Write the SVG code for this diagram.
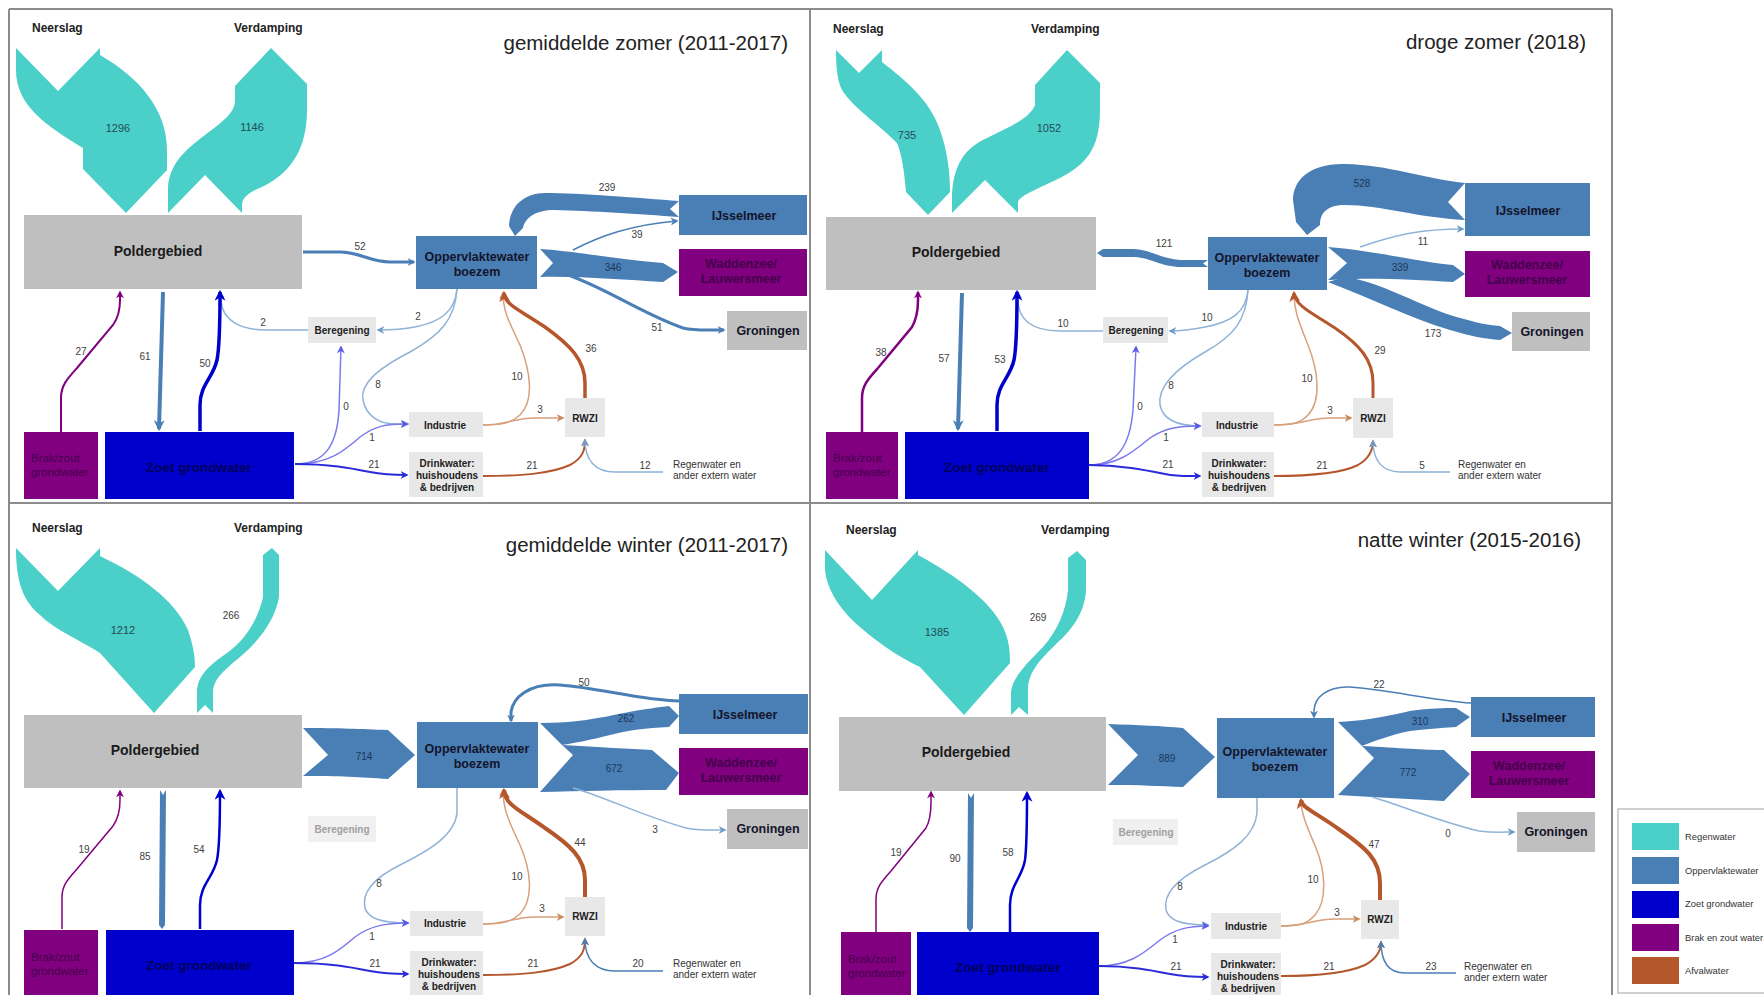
<svg xmlns="http://www.w3.org/2000/svg" width="1764" height="995" viewBox="0 0 1764 995">
<style>
text{font-family:"Liberation Sans",Arial,sans-serif}
.hdr{font-size:12px;font-weight:bold;fill:#222}
.ttl{font-size:20.5px;fill:#222;text-anchor:end}
.pg{font-size:14px;font-weight:bold;fill:#1a1a1a;text-anchor:middle}
.nm{font-size:12.5px;font-weight:bold;fill:#14142a;text-anchor:middle}
.nw{font-size:12.5px;font-weight:bold;fill:#44004a;text-anchor:middle}
.zt{font-size:13.5px;font-weight:bold;fill:#00005a;text-anchor:middle}
.bk{font-size:11.5px;fill:#44004a}
.ns{font-size:10px;font-weight:bold;fill:#222;text-anchor:middle}
.nsg{font-size:10px;font-weight:bold;fill:#a0a0a0;text-anchor:middle}
.fl{font-size:10px;fill:#404040;text-anchor:middle}
.bl{font-size:10px;fill:#1c3658;text-anchor:middle}
.tl{font-size:11px;fill:#244c56;text-anchor:middle}
.rw{font-size:10px;fill:#333}
.lg{font-size:9.4px;fill:#333}
.grey{fill:#bfbfbf}
.lgr{fill:#e8e8e8}
.lgr2{fill:#f0f0f0}
.st{fill:#4a7fb6}
.pu{fill:#800080}
.zo{fill:#0000cd}
.te{fill:#4bcfc9}
.br{fill:#b5572b}
.c{fill:none}
.cst{stroke:#4a7fb6}
.cls{stroke:#8fb3d8}
.czo{stroke:#0000cd}
.cvi{stroke:#7a7aee}
.cbl{stroke:#2a2ad8}
.cpu{stroke:#800080}
.cbr{stroke:#b5572b}
.clb{stroke:#d8a07c}
.frame{stroke:#8c8c8c;stroke-width:2;fill:none}
</style>
<defs>
<marker id="mSt" viewBox="0 0 10 10" refX="8" refY="5" markerWidth="8" markerHeight="8" markerUnits="userSpaceOnUse" orient="auto"><path d="M0,0L10,5L0,10L3,5Z" fill="#4a7fb6"/></marker>
<marker id="mStL" viewBox="0 0 10 10" refX="8" refY="5" markerWidth="11" markerHeight="11" markerUnits="userSpaceOnUse" orient="auto"><path d="M0,0L10,5L0,10L3,5Z" fill="#4a7fb6"/></marker>
<marker id="mLs" viewBox="0 0 10 10" refX="8" refY="5" markerWidth="8" markerHeight="8" markerUnits="userSpaceOnUse" orient="auto"><path d="M0,0L10,5L0,10L3,5Z" fill="#6f9ccc"/></marker>
<marker id="mZo" viewBox="0 0 10 10" refX="8" refY="5" markerWidth="11" markerHeight="11" markerUnits="userSpaceOnUse" orient="auto"><path d="M0,0L10,5L0,10L3,5Z" fill="#0000cd"/></marker>
<marker id="mVi" viewBox="0 0 10 10" refX="8" refY="5" markerWidth="8" markerHeight="8" markerUnits="userSpaceOnUse" orient="auto"><path d="M0,0L10,5L0,10L3,5Z" fill="#5a5aea"/></marker>
<marker id="mBl" viewBox="0 0 10 10" refX="8" refY="5" markerWidth="8" markerHeight="8" markerUnits="userSpaceOnUse" orient="auto"><path d="M0,0L10,5L0,10L3,5Z" fill="#2a2ad8"/></marker>
<marker id="mPu" viewBox="0 0 10 10" refX="8" refY="5" markerWidth="8" markerHeight="8" markerUnits="userSpaceOnUse" orient="auto"><path d="M0,0L10,5L0,10L3,5Z" fill="#800080"/></marker>
<marker id="mBr" viewBox="0 0 10 10" refX="8" refY="5" markerWidth="11" markerHeight="11" markerUnits="userSpaceOnUse" orient="auto"><path d="M0,0L10,5L0,10L3,5Z" fill="#b5572b"/></marker>
<marker id="mBrS" viewBox="0 0 10 10" refX="8" refY="5" markerWidth="8" markerHeight="8" markerUnits="userSpaceOnUse" orient="auto"><path d="M0,0L10,5L0,10L3,5Z" fill="#b5572b"/></marker>
<marker id="mLb" viewBox="0 0 10 10" refX="8" refY="5" markerWidth="8" markerHeight="8" markerUnits="userSpaceOnUse" orient="auto"><path d="M0,0L10,5L0,10L3,5Z" fill="#c98a60"/></marker>
</defs>
<rect x="0" y="0" width="1764" height="995" fill="#ffffff"/>

<g id="frames">
<path class="frame" d="M9,9 L1612,9 M9,9 L9,995 M810,9 L810,995 M1612,9 L1612,995 M9,503 L1612,503"/>
</g>

<!-- ================= PANEL A ================= -->
<g id="panelA">
<text class="ttl" x="788" y="50">gemiddelde zomer (2011-2017)</text>
<g id="a-neerslag"><text class="hdr" x="32" y="32">Neerslag</text></g>
<g id="a-verdamping"><text class="hdr" x="234" y="32">Verdamping</text></g>
<g id="a-polder"><rect class="grey" x="24" y="215" width="278" height="74"/><text class="pg" x="158" y="256">Poldergebied</text></g>
<g id="a-opp"><rect class="st" x="416" y="236" width="121" height="53"/><text class="nm" x="477" y="261">Oppervlaktewater</text><text class="nm" x="477" y="276">boezem</text></g>
<g id="a-ijssel"><rect class="st" x="679" y="195" width="128" height="40"/><text class="nm" x="744" y="220">IJsselmeer</text></g>
<g id="a-wadden"><rect class="pu" x="679" y="249" width="128" height="47"/><text class="nw" x="741" y="268">Waddenzee/</text><text class="nw" x="741" y="283">Lauwersmeer</text></g>
<g id="a-gron"><rect class="grey" x="727" y="311" width="80" height="39"/><text class="nm" x="768" y="335">Groningen</text></g>
<g id="a-bereg"><rect class="lgr" x="308" y="317" width="68" height="26"/><text class="ns" x="342" y="334">Beregening</text></g>
<g id="a-ind"><rect class="lgr" x="409" y="412" width="74" height="25"/><text class="ns" x="445" y="429">Industrie</text></g>
<g id="a-drink"><rect class="lgr" x="409" y="452" width="74" height="45"/><text class="ns" x="447" y="467">Drinkwater:</text><text class="ns" x="447" y="479">huishoudens</text><text class="ns" x="447" y="491">&amp; bedrijven</text></g>
<g id="a-rwzi"><rect class="lgr" x="565" y="398" width="40" height="39"/><text class="ns" x="585" y="422">RWZI</text></g>
<g id="a-brak"><rect class="pu" x="24" y="432" width="74" height="67"/><text class="bk" x="31" y="462">Brak/zout</text><text class="bk" x="31" y="476">grondwater</text></g>
<g id="a-zoet"><rect class="zo" x="105" y="432" width="189" height="67"/><text class="zt" x="199" y="472">Zoet grondwater</text></g>
<g id="a-regen"><text class="rw" x="673" y="468">Regenwater en</text><text class="rw" x="673" y="479">ander extern water</text></g>
</g>
<g id="connectorsA">
<path class="te" d="M16,48 L58,91 L100,48 L100,55 C140,78 167,110 167,150 L167,170 L126,213 L83,169 L83,148 C45,125 16,105 16,70 Z"/>
<path class="te" d="M168,213 L168,190 C168,165 185,150 205,135 C225,120 235,112 235,100 L235,86 L271,48 L307,84 L307,110 C307,160 280,180 255,190 C245,195 242,200 242,205 L242,213 L205,175 Z"/>
<text class="tl" x="118" y="132">1296</text>
<text class="tl" x="252" y="131">1146</text>
<path class="c cst" stroke-width="3" marker-end="url(#mSt)" d="M303,252 L340,252 C360,252 370,262 390,262 L414,262"/>
<text class="fl" x="360" y="250">52</text>
<path class="st" d="M679,201 C640,198 580,193 545,193 C525,193 510,205 509,226 L515,236 L523,228 C525,218 535,210 555,210 C590,211 640,214 679,217 L670,209 Z"/>
<text class="fl" x="607" y="191">239</text>
<path class="c cst" stroke-width="1.5" marker-end="url(#mSt)" d="M573,250 C600,236 630,225 677,221"/>
<text class="fl" x="637" y="238">39</text>
<path class="st" d="M540,249 C575,251 620,260 663,263 L678,272 L663,282 C625,280 580,276 540,277 L553,263 Z"/>
<text class="bl" x="613" y="271">346</text>
<path class="c cst" stroke-width="3" marker-end="url(#mSt)" d="M565,274 C605,287 640,313 683,328 C695,331 705,330 724,330"/>
<text class="fl" x="657" y="331">51</text>
<path class="c cls" stroke-width="1.5" marker-end="url(#mLs)" d="M457,289 C455,312 440,322 415,327 C400,330 390,330 378,330"/>
<text class="fl" x="418" y="320">2</text>
<path class="c cls" stroke-width="1.5" marker-end="url(#mLs)" d="M308,330 L270,330 C240,331 222,320 221,300 L220,292"/>
<text class="fl" x="263" y="326">2</text>
<path class="c cls" stroke-width="1.5" marker-end="url(#mLs)" d="M457,289 C455,320 440,335 410,352 C375,370 360,385 363,400 C366,415 378,424 395,424 L408,424"/>
<text class="fl" x="378" y="388">8</text>
<path class="c clb" stroke-width="1.5" marker-end="url(#mLb)" d="M483,425 C500,425 510,424 520,415 C535,400 530,370 520,345 C508,320 503,310 503,293"/>
<text class="fl" x="517" y="380">10</text>
<path class="c cbr" stroke-width="3.5" marker-end="url(#mBr)" d="M585,398 L585,383 C585,360 570,345 545,327 C520,310 505,305 504,293"/>
<text class="fl" x="591" y="352">36</text>
<path class="c clb" stroke-width="1.5" marker-end="url(#mLb)" d="M483,425 C505,425 515,418 535,418 L563,418"/>
<text class="fl" x="540" y="413">3</text>
<path class="c cbr" stroke-width="2" marker-end="url(#mBrS)" d="M483,476 C520,476 550,474 570,465 C583,458 585,450 585,440"/>
<text class="fl" x="532" y="469">21</text>
<path class="c cls" stroke-width="1.5" marker-end="url(#mLs)" d="M663,472 L615,472 C595,472 585,460 585,440"/>
<text class="fl" x="645" y="469">12</text>
<path class="c cpu" stroke-width="2" marker-end="url(#mPu)" d="M61,432 L61,398 C61,385 68,378 77,368 L113,325 C118,318 120,310 120,300 L120,292"/>
<text class="fl" x="81" y="355">27</text>
<path class="c cst" stroke-width="4" marker-end="url(#mStL)" d="M163,292 L159,429"/>
<text class="fl" x="145" y="360">61</text>
<path class="c czo" stroke-width="3.5" marker-end="url(#mZo)" d="M200,431 L200,405 C200,385 213,378 217,360 C220,345 220,320 220,292"/>
<text class="fl" x="205" y="367">50</text>
<path class="c cvi" stroke-width="1.5" marker-end="url(#mVi)" d="M295,464 C325,464 337,445 339,410 L341,347"/>
<text class="fl" x="346" y="410">0</text>
<path class="c cvi" stroke-width="1.5" marker-end="url(#mVi)" d="M295,464 C330,464 345,450 360,437 C375,426 385,424 407,424"/>
<text class="fl" x="372" y="441">1</text>
<path class="c cbl" stroke-width="2" marker-end="url(#mBl)" d="M295,464 C330,464 350,468 370,472 C385,475 395,475 407,475"/>
<text class="fl" x="374" y="468">21</text>
</g>

<!-- ================= PANEL B ================= -->
<g id="panelB">
<text class="ttl" x="1586" y="49">droge zomer (2018)</text>
<g id="b-neerslag"><text class="hdr" x="833" y="33">Neerslag</text></g>
<g id="b-verdamping"><text class="hdr" x="1031" y="33">Verdamping</text></g>
<g id="b-polder"><rect class="grey" x="826" y="217" width="270" height="73"/><text class="pg" x="956" y="257">Poldergebied</text></g>
<g id="b-opp"><rect class="st" x="1208" y="237" width="119" height="53"/><text class="nm" x="1267" y="262">Oppervlaktewater</text><text class="nm" x="1267" y="277">boezem</text></g>
<g id="b-ijssel"><rect class="st" x="1465" y="183" width="125" height="53"/><text class="nm" x="1528" y="215">IJsselmeer</text></g>
<g id="b-wadden"><rect class="pu" x="1465" y="251" width="125" height="46"/><text class="nw" x="1527" y="269">Waddenzee/</text><text class="nw" x="1527" y="284">Lauwersmeer</text></g>
<g id="b-gron"><rect class="grey" x="1512" y="312" width="78" height="39"/><text class="nm" x="1552" y="336">Groningen</text></g>
<g id="b-bereg"><rect class="lgr" x="1103" y="317" width="65" height="26"/><text class="ns" x="1136" y="334">Beregening</text></g>
<g id="b-ind"><rect class="lgr" x="1202" y="412" width="72" height="25"/><text class="ns" x="1237" y="429">Industrie</text></g>
<g id="b-drink"><rect class="lgr" x="1202" y="452" width="72" height="45"/><text class="ns" x="1239" y="467">Drinkwater:</text><text class="ns" x="1239" y="479">huishoudens</text><text class="ns" x="1239" y="491">&amp; bedrijven</text></g>
<g id="b-rwzi"><rect class="lgr" x="1353" y="398" width="40" height="40"/><text class="ns" x="1373" y="422">RWZI</text></g>
<g id="b-brak"><rect class="pu" x="826" y="432" width="72" height="67"/><text class="bk" x="833" y="462">Brak/zout</text><text class="bk" x="833" y="476">grondwater</text></g>
<g id="b-zoet"><rect class="zo" x="905" y="432" width="184" height="67"/><text class="zt" x="997" y="472">Zoet grondwater</text></g>
<g id="b-regen"><text class="rw" x="1458" y="468">Regenwater en</text><text class="rw" x="1458" y="479">ander extern water</text></g>
</g>
<g id="connectorsB">
<path class="te" d="M836,50 L859,73 L882,50 L882,62 C905,80 930,100 940,130 C947,150 950,170 950,192 L928,215 L906,192 C904,170 902,155 897,143 C880,125 855,110 842,90 C837,80 836,65 836,50 Z"/>
<path class="te" d="M952,213 L952,200 C952,165 965,148 987,138 C1010,127 1030,118 1035,105 L1035,85 L1067,50 L1100,83 L1100,110 C1100,150 1085,165 1060,178 C1040,188 1020,195 1018,202 L1018,213 L985,180 Z"/>
<text class="tl" x="907" y="139">735</text>
<text class="tl" x="1049" y="132">1052</text>
<path class="st" d="M1208,260 L1182,260 C1160,259 1150,249 1133,249 L1103,249 L1097,253 L1103,257 L1133,257 C1150,257 1160,267 1182,267 L1208,267 L1203,263.5 Z"/>
<text class="fl" x="1164" y="247">121</text>
<path class="st" d="M1465,183 C1420,178 1390,165 1345,164 C1310,163 1293,180 1293,200 L1296,222 L1307,235 L1320,225 C1320,212 1328,205 1345,205 C1380,205 1420,218 1465,220 L1448,202 Z"/>
<text class="bl" x="1362" y="187">528</text>
<path class="c cls" stroke-width="1.5" marker-end="url(#mLs)" d="M1360,247 C1395,235 1420,229 1463,229"/>
<text class="fl" x="1423" y="245">11</text>
<path class="st" d="M1345,277 C1380,282 1415,303 1450,315 C1470,321 1485,325 1500,326 L1512,333 L1500,340 C1485,339 1470,336 1450,330 C1410,318 1370,298 1328,282 Z"/>
<path class="st" d="M1328,247 C1370,250 1420,262 1453,265 L1465,274 L1453,282 C1420,280 1380,278 1355,279 L1328,280 L1347,263 Z"/>
<text class="bl" x="1400" y="271">339</text>
<text class="fl" x="1433" y="337">173</text>
<path class="c cls" stroke-width="1.5" marker-end="url(#mLs)" d="M1248,290 C1246,312 1232,322 1205,327 C1190,330 1180,331 1170,331"/>
<text class="fl" x="1207" y="321">10</text>
<path class="c cls" stroke-width="1.5" marker-end="url(#mLs)" d="M1103,331 L1060,331 C1030,331 1018,318 1018,300 L1018,292"/>
<text class="fl" x="1063" y="327">10</text>
<path class="c cls" stroke-width="1.5" marker-end="url(#mLs)" d="M1248,290 C1246,320 1235,335 1205,352 C1170,372 1158,390 1160,405 C1163,420 1178,426 1200,426"/>
<text class="fl" x="1171" y="389">8</text>
<path class="c clb" stroke-width="1.5" marker-end="url(#mLb)" d="M1274,425 C1290,425 1300,424 1308,415 C1322,400 1318,370 1308,345 C1298,320 1294,310 1294,293"/>
<text class="fl" x="1307" y="382">10</text>
<path class="c cbr" stroke-width="3" marker-end="url(#mBr)" d="M1373,398 L1373,383 C1373,360 1360,345 1335,328 C1310,312 1295,305 1294,293"/>
<text class="fl" x="1380" y="354">29</text>
<path class="c clb" stroke-width="1.5" marker-end="url(#mLb)" d="M1274,425 C1300,425 1310,418 1330,418 L1351,418"/>
<text class="fl" x="1330" y="414">3</text>
<path class="c cbr" stroke-width="2" marker-end="url(#mBrS)" d="M1274,476 C1310,476 1340,474 1358,465 C1370,458 1373,450 1373,441"/>
<text class="fl" x="1322" y="469">21</text>
<path class="c cls" stroke-width="1.5" marker-end="url(#mLs)" d="M1450,472 L1400,472 C1382,472 1373,460 1373,441"/>
<text class="fl" x="1422" y="469">5</text>
<path class="c cpu" stroke-width="2.5" marker-end="url(#mPu)" d="M862,432 L862,398 C862,385 869,378 878,368 L912,327 C916,320 918,310 918,300 L918,292"/>
<text class="fl" x="881" y="356">38</text>
<path class="c cst" stroke-width="4" marker-end="url(#mStL)" d="M962,293 L958,429"/>
<text class="fl" x="944" y="362">57</text>
<path class="c czo" stroke-width="3.5" marker-end="url(#mZo)" d="M997,431 L997,405 C997,385 1010,378 1014,360 C1017,345 1017,320 1017,292"/>
<text class="fl" x="1000" y="363">53</text>
<path class="c cvi" stroke-width="1.5" marker-end="url(#mVi)" d="M1089,465 C1118,465 1130,445 1133,410 L1136,347"/>
<text class="fl" x="1140" y="410">0</text>
<path class="c cvi" stroke-width="1.5" marker-end="url(#mVi)" d="M1089,465 C1120,465 1135,450 1150,438 C1165,428 1178,426 1200,426"/>
<text class="fl" x="1166" y="441">1</text>
<path class="c cbl" stroke-width="2" marker-end="url(#mBl)" d="M1089,465 C1120,465 1145,470 1165,474 C1180,477 1190,476 1200,476"/>
<text class="fl" x="1168" y="468">21</text>
</g>

<!-- ================= PANEL C ================= -->
<g id="panelC">
<text class="ttl" x="788" y="552">gemiddelde winter (2011-2017)</text>
<g id="c-neerslag"><text class="hdr" x="32" y="532">Neerslag</text></g>
<g id="c-verdamping"><text class="hdr" x="234" y="532">Verdamping</text></g>
<g id="c-polder"><rect class="grey" x="24" y="715" width="278" height="73"/><text class="pg" x="155" y="755">Poldergebied</text></g>
<g id="c-opp"><rect class="st" x="417" y="722" width="121" height="66"/><text class="nm" x="477" y="753">Oppervlaktewater</text><text class="nm" x="477" y="768">boezem</text></g>
<g id="c-ijssel"><rect class="st" x="679" y="694" width="129" height="40"/><text class="nm" x="745" y="719">IJsselmeer</text></g>
<g id="c-wadden"><rect class="pu" x="679" y="748" width="129" height="47"/><text class="nw" x="741" y="767">Waddenzee/</text><text class="nw" x="741" y="782">Lauwersmeer</text></g>
<g id="c-gron"><rect class="grey" x="727" y="809" width="81" height="40"/><text class="nm" x="768" y="833">Groningen</text></g>
<g id="c-bereg"><rect class="lgr2" x="308" y="816" width="68" height="26"/><text class="nsg" x="342" y="833">Beregening</text></g>
<g id="c-ind"><rect class="lgr" x="410" y="911" width="73" height="25"/><text class="ns" x="445" y="927">Industrie</text></g>
<g id="c-drink"><rect class="lgr" x="410" y="951" width="73" height="50"/><text class="ns" x="449" y="966">Drinkwater:</text><text class="ns" x="449" y="978">huishoudens</text><text class="ns" x="449" y="990">&amp; bedrijven</text></g>
<g id="c-rwzi"><rect class="lgr" x="565" y="897" width="40" height="39"/><text class="ns" x="585" y="920">RWZI</text></g>
<g id="c-brak"><rect class="pu" x="24" y="930" width="74" height="70"/><text class="bk" x="31" y="961">Brak/zout</text><text class="bk" x="31" y="975">grondwater</text></g>
<g id="c-zoet"><rect class="zo" x="106" y="930" width="188" height="70"/><text class="zt" x="199" y="970">Zoet grondwater</text></g>
<g id="c-regen"><text class="rw" x="673" y="967">Regenwater en</text><text class="rw" x="673" y="978">ander extern water</text></g>
</g>
<g id="connectorsC">
<path class="te" d="M16,548 L58,591 L100,548 L100,556 C140,575 175,600 188,630 C193,645 195,655 195,667 L154,713 L100,653 C80,640 55,630 40,615 C22,600 16,580 16,548 Z"/>
<path class="te" d="M197,713 L197,693 C197,675 210,665 227,653 C245,640 258,620 263,597 L263,555 L272,548 L279,555 L279,597 C275,620 260,640 240,657 C222,672 213,680 213,693 L213,713 L205,705 Z"/>
<text class="tl" x="123" y="634">1212</text>
<text class="fl" x="231" y="619">266</text>
<path class="st" d="M303,728 C340,728 360,729 388,730 L415,755 L388,779 C360,777 340,776 303,776 L328,755 Z"/>
<text class="bl" x="364" y="760">714</text>
<path class="c cst" stroke-width="3" marker-end="url(#mSt)" d="M679,701 C640,700 600,688 560,685 C528,683 513,698 511,712 L511,721"/>
<text class="fl" x="584" y="686">50</text>
<path class="st" d="M540,723 C575,723 600,718 624,713 C645,709 660,707 669,706 L679,716 L669,727 C645,728 630,730 610,735 C590,740 575,743 562,745 Z"/>
<text class="bl" x="626" y="722">262</text>
<path class="st" d="M562,745 C600,747 630,749 652,750 L679,773 L666,790 C620,790 580,791 540,792 L573,755 Z"/>
<text class="bl" x="614" y="772">672</text>
<path class="c cls" stroke-width="1.5" marker-end="url(#mLs)" d="M573,788 C600,795 640,815 686,828 C700,831 710,830 725,830"/>
<text class="fl" x="655" y="833">3</text>
<path class="c cls" stroke-width="1.5" marker-end="url(#mLs)" d="M457,788 L457,813 C455,835 430,850 400,865 C370,880 362,895 365,908 C368,918 380,923 408,923"/>
<text class="fl" x="379" y="887">8</text>
<path class="c clb" stroke-width="1.5" marker-end="url(#mLb)" d="M483,924 C500,924 510,923 520,914 C535,898 530,868 520,845 C508,820 503,808 503,790"/>
<text class="fl" x="517" y="880">10</text>
<path class="c cbr" stroke-width="4" marker-end="url(#mBr)" d="M585,897 L585,880 C585,858 570,845 545,828 C520,810 505,805 504,790"/>
<text class="fl" x="580" y="846">44</text>
<path class="c clb" stroke-width="1.5" marker-end="url(#mLb)" d="M483,924 C505,924 515,917 535,917 L563,917"/>
<text class="fl" x="542" y="912">3</text>
<path class="c cbr" stroke-width="2" marker-end="url(#mBrS)" d="M483,975 C520,975 550,973 570,964 C583,957 585,949 585,939"/>
<text class="fl" x="533" y="967">21</text>
<path class="c cst" stroke-width="1.5" marker-end="url(#mSt)" d="M663,971 L615,971 C595,971 585,959 585,939"/>
<text class="fl" x="638" y="967">20</text>
<path class="c cpu" stroke-width="1.5" marker-end="url(#mPu)" d="M62,929 L62,897 C62,885 69,878 77,869 L113,826 C118,819 120,810 120,800 L120,791"/>
<text class="fl" x="84" y="853">19</text>
<path class="st" d="M160,790 L163,795 L166,790 L165,925 L162,929 L159,925 Z"/>
<text class="fl" x="145" y="860">85</text>
<path class="c czo" stroke-width="2.5" marker-end="url(#mZo)" d="M200,929 L200,905 C200,885 213,878 217,860 C220,845 220,820 220,791"/>
<text class="fl" x="199" y="853">54</text>
<path class="c cvi" stroke-width="1.5" marker-end="url(#mVi)" d="M294,963 C325,963 340,950 355,937 C370,926 385,923 408,923"/>
<text class="fl" x="372" y="940">1</text>
<path class="c cbl" stroke-width="2" marker-end="url(#mBl)" d="M294,963 C330,963 350,967 370,971 C385,974 395,974 408,974"/>
<text class="fl" x="375" y="967">21</text>
</g>

<!-- ================= PANEL D ================= -->
<g id="panelD">
<text class="ttl" x="1581" y="547">natte winter (2015-2016)</text>
<g id="d-neerslag"><text class="hdr" x="846" y="534">Neerslag</text></g>
<g id="d-verdamping"><text class="hdr" x="1041" y="534">Verdamping</text></g>
<g id="d-polder"><rect class="grey" x="839" y="717" width="267" height="74"/><text class="pg" x="966" y="757">Poldergebied</text></g>
<g id="d-opp"><rect class="st" x="1217" y="718" width="117" height="80"/><text class="nm" x="1275" y="756">Oppervlaktewater</text><text class="nm" x="1275" y="771">boezem</text></g>
<g id="d-ijssel"><rect class="st" x="1471" y="697" width="124" height="40"/><text class="nm" x="1534" y="722">IJsselmeer</text></g>
<g id="d-wadden"><rect class="pu" x="1471" y="751" width="124" height="47"/><text class="nw" x="1529" y="770">Waddenzee/</text><text class="nw" x="1529" y="785">Lauwersmeer</text></g>
<g id="d-gron"><rect class="grey" x="1517" y="812" width="78" height="40"/><text class="nm" x="1556" y="836">Groningen</text></g>
<g id="d-bereg"><rect class="lgr2" x="1113" y="819" width="65" height="26"/><text class="nsg" x="1146" y="836">Beregening</text></g>
<g id="d-ind"><rect class="lgr" x="1211" y="913" width="70" height="26"/><text class="ns" x="1246" y="930">Industrie</text></g>
<g id="d-drink"><rect class="lgr" x="1211" y="953" width="70" height="45"/><text class="ns" x="1248" y="968">Drinkwater:</text><text class="ns" x="1248" y="980">huishoudens</text><text class="ns" x="1248" y="992">&amp; bedrijven</text></g>
<g id="d-rwzi"><rect class="lgr" x="1361" y="900" width="38" height="39"/><text class="ns" x="1380" y="923">RWZI</text></g>
<g id="d-brak"><rect class="pu" x="841" y="932" width="70" height="65"/><text class="bk" x="848" y="963">Brak/zout</text><text class="bk" x="848" y="977">grondwater</text></g>
<g id="d-zoet"><rect class="zo" x="917" y="932" width="182" height="65"/><text class="zt" x="1008" y="972">Zoet grondwater</text></g>
<g id="d-regen"><text class="rw" x="1464" y="970">Regenwater en</text><text class="rw" x="1464" y="981">ander extern water</text></g>
</g>
<g id="connectorsD">
<path class="te" d="M825,550 L872,600 L918,550 L918,555 C955,575 990,600 1003,627 C1009,640 1010,650 1010,663 L964,715 L920,667 C905,660 880,645 860,627 C840,610 827,590 825,570 Z"/>
<path class="te" d="M1011,715 L1011,693 C1011,680 1025,665 1043,647 C1058,630 1066,610 1068,590 L1068,558 L1077,551 L1086,560 L1086,590 C1085,612 1072,630 1057,643 C1040,660 1028,672 1028,690 L1028,715 L1019,707 Z"/>
<text class="tl" x="937" y="636">1385</text>
<text class="fl" x="1038" y="621">269</text>
<path class="st" d="M1108,724 C1140,725 1160,726 1183,728 L1215,757 L1183,787 C1160,786 1140,785 1108,785 L1138,755 Z"/>
<text class="bl" x="1167" y="762">889</text>
<path class="c cst" stroke-width="1.5" marker-end="url(#mSt)" d="M1471,703 C1430,700 1390,690 1350,687 C1326,686 1315,698 1314,710 L1314,717"/>
<text class="fl" x="1379" y="688">22</text>
<path class="st" d="M1338,722 C1360,721 1380,718 1410,711 C1430,708 1445,708 1456,708 L1470,717 L1456,727 C1440,728 1425,729 1410,731 C1390,735 1375,741 1362,746 Z"/>
<text class="bl" x="1420" y="725">310</text>
<path class="st" d="M1362,746 C1400,748 1425,750 1444,750 L1470,774 L1444,801 C1410,799 1370,797 1338,795 L1374,758 Z"/>
<text class="bl" x="1408" y="776">772</text>
<path class="c cls" stroke-width="1.5" marker-end="url(#mLs)" d="M1372,797 C1400,805 1440,822 1479,831 C1495,833 1505,832 1514,832"/>
<text class="fl" x="1448" y="837">0</text>
<path class="c cls" stroke-width="1.5" marker-end="url(#mLs)" d="M1257,798 L1257,813 C1255,835 1235,850 1205,865 C1175,880 1163,895 1166,910 C1169,920 1180,925 1208,925"/>
<text class="fl" x="1180" y="890">8</text>
<path class="c clb" stroke-width="1.5" marker-end="url(#mLb)" d="M1281,926 C1298,926 1306,925 1315,915 C1328,900 1325,870 1316,848 C1305,822 1301,812 1301,800"/>
<text class="fl" x="1313" y="883">10</text>
<path class="c cbr" stroke-width="4" marker-end="url(#mBr)" d="M1380,900 L1380,883 C1380,860 1366,848 1340,830 C1315,812 1302,808 1301,800"/>
<text class="fl" x="1374" y="848">47</text>
<path class="c clb" stroke-width="1.5" marker-end="url(#mLb)" d="M1281,926 C1305,926 1315,919 1335,919 L1359,919"/>
<text class="fl" x="1337" y="916">3</text>
<path class="c cbr" stroke-width="2" marker-end="url(#mBrS)" d="M1281,976 C1315,976 1345,974 1365,965 C1378,958 1381,950 1381,942"/>
<text class="fl" x="1329" y="970">21</text>
<path class="c cst" stroke-width="1.5" marker-end="url(#mSt)" d="M1456,973 L1405,973 C1388,973 1381,962 1381,942"/>
<text class="fl" x="1431" y="970">23</text>
<path class="c cpu" stroke-width="1.5" marker-end="url(#mPu)" d="M876,932 L876,899 C876,887 883,880 891,871 L926,828 C930,821 931,812 931,802 L931,792"/>
<text class="fl" x="896" y="856">19</text>
<path class="st" d="M968,793 L971,798 L974,793 L973,928 L970,932 L967,928 Z"/>
<text class="fl" x="955" y="862">90</text>
<path class="c czo" stroke-width="2.5" marker-end="url(#mZo)" d="M1010,932 L1010,905 C1010,885 1022,878 1025,860 C1027,845 1027,820 1027,793"/>
<text class="fl" x="1008" y="856">58</text>
<path class="c cvi" stroke-width="1.5" marker-end="url(#mVi)" d="M1099,966 C1130,966 1145,952 1160,940 C1175,929 1188,926 1208,926"/>
<text class="fl" x="1175" y="943">1</text>
<path class="c cbl" stroke-width="2" marker-end="url(#mBl)" d="M1099,966 C1130,966 1150,970 1170,974 C1185,977 1195,977 1208,977"/>
<text class="fl" x="1176" y="970">21</text>
</g>

<!-- ================= LEGEND ================= -->
<g id="legend">
<rect x="1618" y="809" width="160" height="184" fill="#ffffff" stroke="#a0a0a0" stroke-width="1"/>
<rect class="te" x="1632" y="823" width="47" height="27"/><text class="lg" x="1685" y="840">Regenwater</text>
<rect class="st" x="1632" y="857" width="47" height="27"/><text class="lg" x="1685" y="874">Oppervlaktewater</text>
<rect class="zo" x="1632" y="891" width="47" height="27"/><text class="lg" x="1685" y="907">Zoet grondwater</text>
<rect class="pu" x="1632" y="924" width="47" height="27"/><text class="lg" x="1685" y="941">Brak en zout water</text>
<rect class="br" x="1632" y="957" width="47" height="27"/><text class="lg" x="1685" y="974">Afvalwater</text>
</g>
</svg>
